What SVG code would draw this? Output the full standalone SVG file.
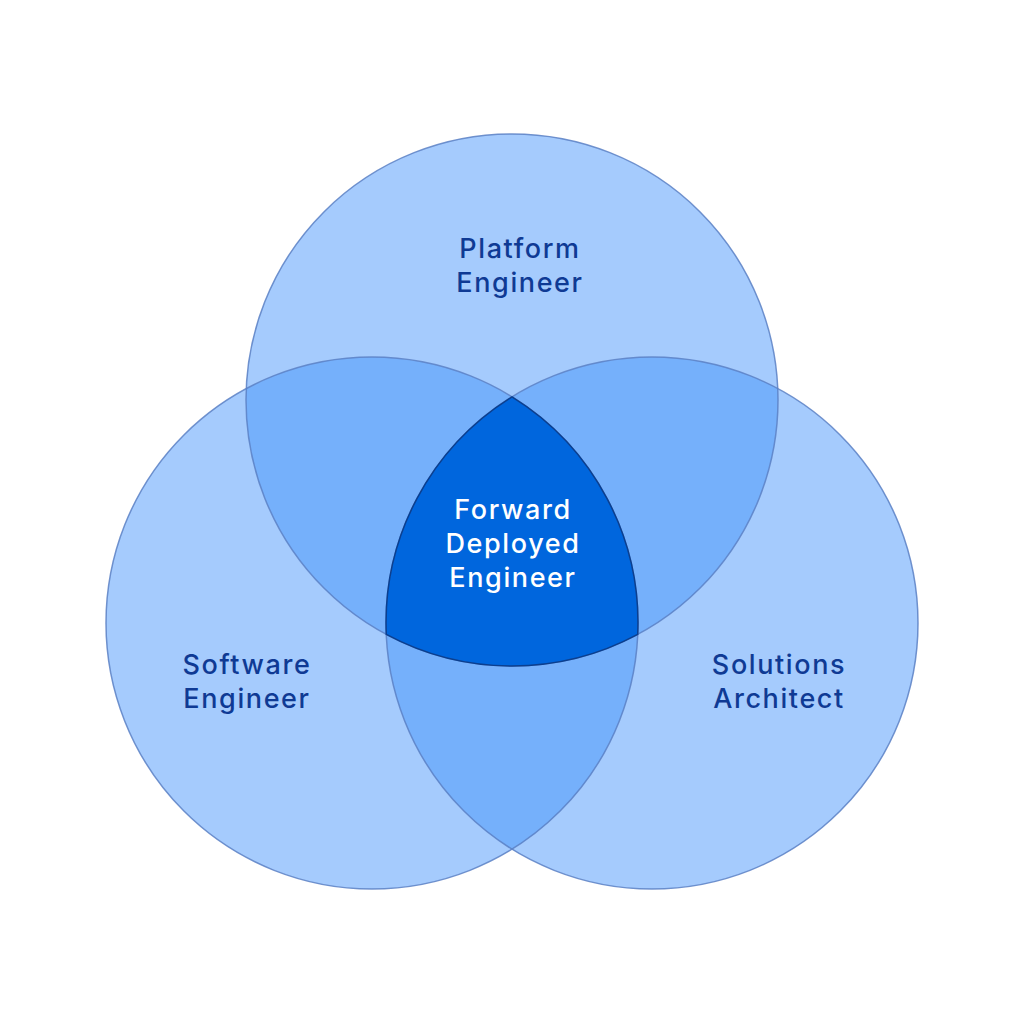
<svg xmlns="http://www.w3.org/2000/svg" width="1024" height="1024" viewBox="0 0 1024 1024">
<style>
.c{fill:#a5cbfd;stroke:none}
.o{fill:none;stroke:#5b80c4;stroke-width:1.5;stroke-opacity:0.85}
.lens{fill:#75b0fb;stroke:none}
.core{fill:#0066dd;stroke:#0b3f8f;stroke-width:1.5}
text{font-family:Inter,"Open Sans","Liberation Sans",sans-serif;font-weight:500;font-size:27px;letter-spacing:1.6px;text-anchor:middle}
.lbl{fill:#0f3a94}
.w{fill:#ffffff}
</style>
<rect width="1024" height="1024" fill="#ffffff"/>
<g id="fills">
<circle class="c" cx="512" cy="400" r="266"/>
<circle class="c" cx="372" cy="623" r="266"/>
<circle class="c" cx="652" cy="623" r="266"/>
<path class="lens" d="M246.3,388.6 A266,266 0 0,1 637.7,634.4 A266,266 0 0,1 246.3,388.6 Z"/>
<path class="lens" d="M777.7,388.6 A266,266 0 0,0 386.3,634.4 A266,266 0 0,0 777.7,388.6 Z"/>
<path class="lens" d="M512,396.8 A266,266 0 0,1 512,849.2 A266,266 0 0,1 512,396.8 Z"/>
</g>
<g id="outlines">
<circle class="o" cx="512" cy="400" r="266"/>
<circle class="o" cx="372" cy="623" r="266"/>
<circle class="o" cx="652" cy="623" r="266"/>
</g>
<g id="platform">
<text class="lbl" x="520" y="258">Platform</text>
<text class="lbl" x="520" y="292">Engineer</text>
</g>
<g id="software">
<text class="lbl" x="247" y="674">Software</text>
<text class="lbl" x="247" y="708">Engineer</text>
</g>
<g id="solutions">
<text class="lbl" x="779" y="674">Solutions</text>
<text class="lbl" x="779" y="708">Architect</text>
</g>
<g id="fde">
<path class="core" d="M512,396.8 A266,266 0 0,0 386.3,634.4 A266,266 0 0,0 637.7,634.4 A266,266 0 0,0 512,396.8 Z"/>
<text class="w" x="513" y="519">Forward</text>
<text class="w" x="513" y="553">Deployed</text>
<text class="w" x="513" y="587">Engineer</text>
</g>
</svg>
